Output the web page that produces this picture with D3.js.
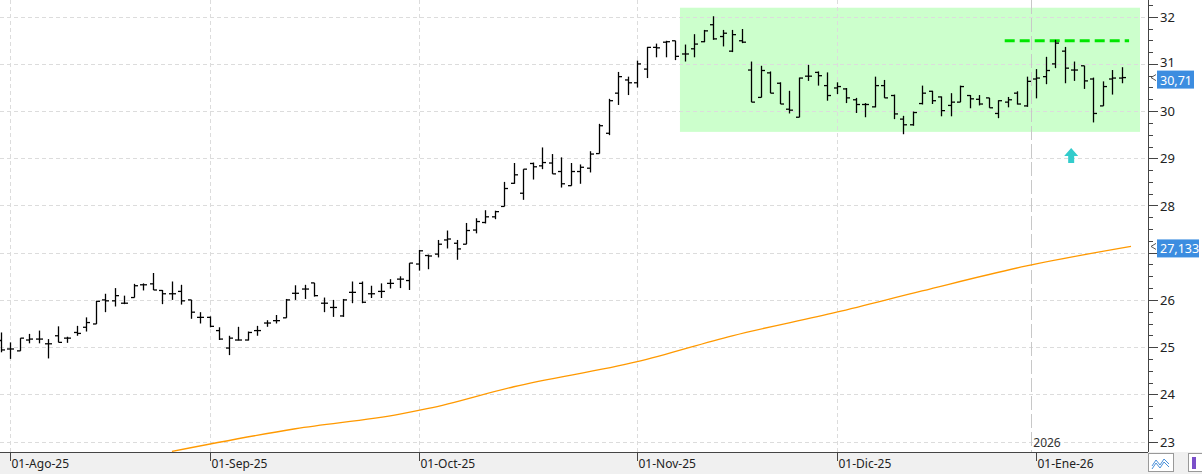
<!DOCTYPE html>
<html><head><meta charset="utf-8">
<script src="https://cdn.jsdelivr.net/npm/d3@7"></script>
<style>body{margin:0;background:#fff;}svg{display:block;font-family:"Segoe UI","Noto Sans",Arial,sans-serif;}</style>
</head><body><svg id="c" width="1202" height="474"></svg>
<script>
const highs=[25.31,25.10,25.19,25.28,25.35,25.17,25.44,25.22,25.45,25.63,25.98,26.13,26.25,26.09,26.34,26.35,26.57,26.21,26.39,26.32,26.00,25.74,25.65,25.42,25.24,25.43,25.33,25.45,25.57,25.68,26.02,26.31,26.32,26.36,26.05,26.00,26.02,26.39,26.39,26.30,26.35,26.44,26.50,26.78,
27.06,26.96,27.27,27.47,27.27,27.63,27.73,27.90,27.89,28.50,28.90,28.77,28.91,29.23,29.09,29.02,28.90,28.87,29.15,29.73,30.26,30.83,30.73,31.07,31.36,31.43,31.49,31.49,31.41,31.63,31.72,32.01,31.72,31.72,31.74,31.05,
30.96,30.84,30.61,30.43,30.71,30.98,30.84,30.82,30.61,30.49,30.28,30.17,30.73,30.66,30.35,29.90,29.99,30.54,30.43,30.31,30.38,30.54,30.34,30.34,30.28,30.23,30.30,30.42,30.73,30.89,31.15,31.51,31.36,31.05,30.96,30.71,30.63,30.87,30.93];
const lows=[24.89,24.75,24.92,25.08,25.08,24.76,25.10,25.09,25.24,25.33,25.49,25.74,25.86,25.91,26.05,26.20,26.21,25.91,26.00,25.90,25.60,25.50,25.42,25.15,24.83,25.14,25.14,25.24,25.43,25.50,25.62,26.00,26.02,26.07,25.74,25.64,25.64,25.93,25.93,26.04,26.04,26.24,26.25,26.21,
26.62,26.65,26.90,27.09,26.85,27.18,27.41,27.62,27.71,27.98,28.46,28.12,28.55,28.77,28.67,28.38,28.42,28.46,28.70,29.10,29.49,30.13,30.34,30.50,30.70,31.14,31.14,31.08,31.05,31.14,31.46,31.51,31.37,31.25,31.44,30.19,
30.29,30.38,30.15,29.95,29.87,30.64,30.54,30.22,30.36,30.17,29.96,29.87,30.08,30.28,29.83,29.51,29.69,30.14,30.15,29.89,29.89,30.19,30.06,30.12,30.07,29.85,30.08,30.14,30.09,30.27,30.57,30.91,30.59,30.64,30.47,29.76,30.11,30.35,30.59];
const opens=[25.14,24.96,24.92,25.15,25.17,25.07,25.24,25.19,25.31,25.42,25.49,26.00,25.98,25.93,26.05,26.32,26.34,26.20,26.13,26.18,26.00,25.63,25.63,25.35,24.98,25.15,25.15,25.35,25.51,25.56,25.62,26.14,26.23,26.36,25.93,25.84,25.66,26.16,26.35,26.13,26.18,26.35,26.44,26.41,
26.76,26.94,26.97,27.27,27.20,27.18,27.48,27.64,27.76,27.98,28.47,28.26,28.89,28.84,28.90,28.72,28.42,28.72,28.79,29.10,29.53,30.38,30.66,30.60,30.89,31.35,31.46,31.49,31.21,31.32,31.47,31.83,31.58,31.27,31.49,30.87,
30.29,30.81,30.59,30.04,29.87,30.74,30.82,30.54,30.49,30.47,30.24,30.14,30.09,30.54,30.33,29.83,29.71,30.16,30.42,30.30,30.12,30.19,30.33,30.25,30.28,29.95,30.19,30.38,30.11,30.68,30.73,31.00,31.27,30.87,30.96,30.68,30.11,30.68,30.70];
const closes=[24.94,24.96,25.19,25.17,25.17,25.07,25.10,25.19,25.29,25.52,25.97,25.98,26.09,25.93,26.30,26.32,26.21,26.13,26.13,25.98,25.74,25.63,25.44,25.17,25.19,25.15,25.31,25.35,25.51,25.56,26.00,26.14,26.23,26.09,25.93,25.84,26.00,26.16,25.95,26.13,26.18,26.35,26.44,26.78,
27.04,26.93,27.18,27.29,27.08,27.47,27.66,27.76,27.87,28.36,28.65,28.77,28.82,28.91,28.67,28.46,28.72,28.81,29.09,29.69,30.22,30.73,30.60,31.00,31.35,31.34,31.47,31.16,31.21,31.42,31.70,31.53,31.65,31.62,31.46,30.19,
30.86,30.38,30.15,30.02,30.70,30.74,30.75,30.33,30.52,30.28,30.14,30.14,30.54,30.28,29.94,29.71,29.97,30.38,30.22,30.01,30.19,30.52,30.26,30.15,30.07,30.22,30.24,30.15,30.63,30.70,30.86,31.44,30.91,30.87,30.64,29.95,30.52,30.70,30.71];
const maIndex=[18,31,42,45,54,67,77,88,97,108,119];
const maValues=[22.79,23.27,23.58,23.70,24.16,24.69,25.24,25.74,26.19,26.72,27.133];
const monthLabels=["01-Ago-25","01-Sep-25","01-Oct-25","01-Nov-25","01-Dic-25","01-Ene-26"];
const monthIndex=[1,22,44,67,88,109];
const yTicks=[23,24,25,26,27,28,29,30,31,32];
const zoneX=[71.5,120], zoneY=[29.56,32.19];
const resistX=[105.7,118.8], resistY=31.49;
const arrowAt=[112.7,29.22];
const yearIndex=108.5, yearLabel="2026";
const lastPrice="30,71", maLabel="27,133";

const svg=d3.select("#c");
const W=1148,H=452;
const x=d3.scaleLinear().domain([0,119]).range([1,1131]);
const y=d3.scaleLinear().domain([23,32]).range([441.5,16.7]);
const n=highs.length;

svg.append("rect").attr("x",0).attr("y",0).attr("width",W).attr("height",H).attr("fill","#fff");
svg.append("rect").attr("x",x(zoneX[0])).attr("y",y(zoneY[1])).attr("width",Math.min(x(zoneX[1]),1140)-x(zoneX[0])).attr("height",y(zoneY[0])-y(zoneY[1])).attr("fill","#ccffcc");
svg.append("g").selectAll("line").data(yTicks).join("line").attr("x1",0).attr("x2",W).attr("y1",d=>Math.round(y(d))+.5).attr("y2",d=>Math.round(y(d))+.5).attr("stroke","#dcdcdc").attr("stroke-dasharray","4,3");
svg.append("g").selectAll("line").data(monthIndex.slice(0,5)).join("line").attr("x1",d=>Math.round(x(d))+.5).attr("x2",d=>Math.round(x(d))+.5).attr("y1",0).attr("y2",H).attr("stroke","#dcdcdc").attr("stroke-dasharray","4,3");
svg.append("line").attr("x1",Math.round(x(yearIndex))+.5).attr("x2",Math.round(x(yearIndex))+.5).attr("y1",0).attr("y2",H).attr("stroke","#c8c8c8").attr("stroke-dasharray","14,4");
svg.append("text").attr("x",x(yearIndex)+2).attr("y",447).attr("font-size",12).attr("fill","#333").text(yearLabel);
svg.append("clipPath").attr("id","cp").append("rect").attr("width",W).attr("height",H);
svg.append("path").datum(maIndex.map((d,i)=>[d,maValues[i]])).attr("clip-path","url(#cp)").attr("fill","none").attr("stroke","#ff9900").attr("stroke-width",1.3).attr("d",d3.line().curve(d3.curveMonotoneX).x(d=>x(d[0])).y(d=>y(d[1])));
svg.append("line").attr("x1",x(resistX[0])).attr("x2",x(resistX[1])).attr("y1",y(resistY)).attr("y2",y(resistY)).attr("stroke","#00e600").attr("stroke-width",3).attr("stroke-dasharray","10,5");
const g=svg.append("g").attr("stroke","#000").attr("stroke-width",1.3);
d3.range(n).forEach(i=>{
  const cx=Math.round(x(i))+.5;
  g.append("line").attr("x1",cx).attr("x2",cx).attr("y1",y(highs[i])).attr("y2",y(lows[i]));
  g.append("line").attr("x1",cx-3.5).attr("x2",cx).attr("y1",y(opens[i])).attr("y2",y(opens[i]));
  g.append("line").attr("x1",cx).attr("x2",cx+3.5).attr("y1",y(closes[i])).attr("y2",y(closes[i]));
});
const ax=x(arrowAt[0]),ay=y(arrowAt[1]);
svg.append("path").attr("d",`M${ax},${ay} L${ax+7},${ay+8} L${ax+3},${ay+8} L${ax+3},${ay+15} L${ax-3},${ay+15} L${ax-3},${ay+8} L${ax-7},${ay+8}Z`).attr("fill","#33cccc");
svg.append("rect").attr("x",W).attr("y",0).attr("width",1202-W).attr("height",H).attr("fill","#fff");
svg.append("line").attr("x1",W+.5).attr("x2",W+.5).attr("y1",0).attr("y2",H).attr("stroke","#444");
const minor=d3.range(22.75,32.76,0.25);
svg.append("g").selectAll("line").data(minor).join("line").attr("x1",W).attr("x2",d=>W+(Math.abs(d-Math.round(d))<1e-6?10:5)).attr("y1",d=>Math.round(y(d))+.5).attr("y2",d=>Math.round(y(d))+.5).attr("stroke","#444");
// the 27 label sits under the MA price box in the reference
svg.append("g").selectAll("text").data(yTicks.filter(d=>d!==27)).join("text").attr("x",W+12).attr("y",d=>y(d)+(d===31?3.5:5)).attr("font-size",13).attr("fill","#222").text(d=>d);
[[closes[n-1],lastPrice],[maValues[maValues.length-1],maLabel]].forEach(([v,t])=>{
  const yy=y(v);
  svg.append("rect").attr("x",1157).attr("y",yy-7).attr("width",t.length>5?42:37).attr("height",18).attr("fill","#3c8de0");
  svg.append("text").attr("x",1160).attr("y",yy+7).attr("font-size",12.5).attr("fill","#fff").text(t);
  svg.append("path").attr("d",`M1156,${yy-3} L1151,${yy} L1156,${yy+3}`).attr("fill","none").attr("stroke","#555");
});
svg.append("rect").attr("x",0).attr("y",H).attr("width",1202).attr("height",474-H).attr("fill","#f0f0f0");
svg.append("line").attr("x1",0).attr("x2",W).attr("y1",H+.5).attr("y2",H+.5).attr("stroke","#444");
monthIndex.forEach((m,i)=>{
  const mx=Math.round(x(m))+.5;
  svg.append("line").attr("x1",mx).attr("x2",mx).attr("y1",H).attr("y2",H+9).attr("stroke","#444");
  svg.append("text").attr("x",mx+1).attr("y",H+16).attr("font-size",12).attr("fill","#222").text(monthLabels[i]);
});
svg.append("rect").attr("x",1148.5).attr("y",453.5).attr("width",25).attr("height",18).attr("fill","#fff").attr("stroke","#999");
svg.append("path").attr("d","M1152,466 L1156,460 L1160,465 L1164,459 L1169,464 M1152,469 L1156,463 L1160,468 L1164,462 L1169,467").attr("fill","none").attr("stroke","#4a90d9");
svg.append("rect").attr("x",1188.5).attr("y",453.5).attr("width",14).attr("height",18).attr("fill","#fff").attr("stroke","#999");
svg.append("rect").attr("x",1192).attr("y",457).attr("width",4).attr("height",12).attr("fill","#7a4fc9");
</script></body></html>
